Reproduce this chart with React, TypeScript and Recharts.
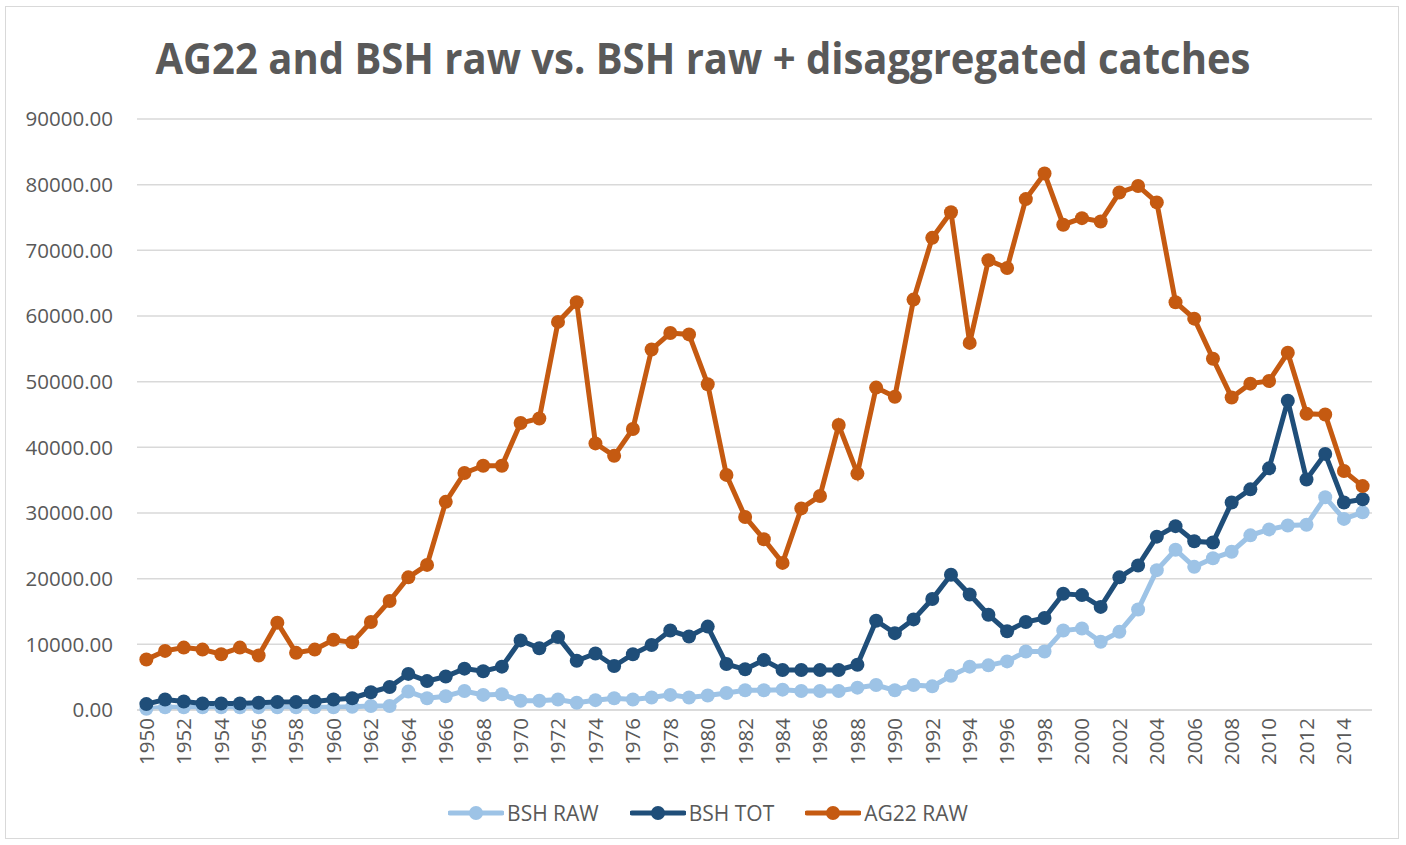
import { LineChart, Line, XAxis, YAxis, CartesianGrid, Legend } from "recharts"

const years = [
  "1950", "1951", "1952", "1953", "1954", "1955", "1956", "1957", "1958", "1959",
  "1960", "1961", "1962", "1963", "1964", "1965", "1966", "1967", "1968", "1969",
  "1970", "1971", "1972", "1973", "1974", "1975", "1976", "1977", "1978", "1979",
  "1980", "1981", "1982", "1983", "1984", "1985", "1986", "1987", "1988", "1989",
  "1990", "1991", "1992", "1993", "1994", "1995", "1996", "1997", "1998", "1999",
  "2000", "2001", "2002", "2003", "2004", "2005", "2006", "2007", "2008", "2009",
  "2010", "2011", "2012", "2013", "2014", "2015",
]

const bshRaw = [
  200, 400, 400, 400, 400, 400, 400, 400, 400, 400,
  400, 500, 600, 600, 2800, 1800, 2100, 2900, 2300, 2400,
  1400, 1400, 1600, 1100, 1500, 1800, 1600, 1900, 2300, 1900,
  2200, 2600, 3000, 3000, 3100, 2900, 2900, 2900, 3400, 3800,
  3000, 3800, 3600, 5200, 6600, 6800, 7400, 8900, 8900, 12100,
  12400, 10400, 11900, 15300, 21300, 24400, 21800, 23100, 24100, 26600,
  27500, 28100, 28200, 32400, 29100, 30100,
]

const bshTot = [
  900, 1600, 1300, 1000, 1000, 1000, 1100, 1200, 1200, 1300,
  1600, 1800, 2700, 3500, 5500, 4400, 5100, 6300, 5900, 6600,
  10600, 9400, 11100, 7500, 8600, 6700, 8500, 9900, 12100, 11200,
  12700, 7000, 6200, 7600, 6100, 6100, 6100, 6100, 6900, 13600,
  11700, 13800, 16900, 20600, 17600, 14500, 12000, 13400, 14000, 17700,
  17500, 15700, 20200, 22000, 26400, 28000, 25700, 25500, 31600, 33600,
  36800, 47100, 35100, 39000, 31600, 32100,
]

const ag22Raw = [
  7700, 9000, 9500, 9200, 8500, 9500, 8300, 13300, 8700, 9200,
  10700, 10300, 13400, 16600, 20200, 22100, 31700, 36100, 37200, 37200,
  43700, 44400, 59100, 62100, 40600, 38700, 42800, 54900, 57400, 57200,
  49600, 35800, 29400, 26000, 22400, 30700, 32600, 43400, 36000, 49100,
  47700, 62500, 71900, 75800, 55900, 68500, 67300, 77800, 81700, 73900,
  74900, 74400, 78800, 79800, 77300, 62100, 59600, 53500, 47600, 49700,
  50100, 54400, 45100, 45000, 36400, 34100,
]

const yTicks = [0, 10000, 20000, 30000, 40000, 50000, 60000, 70000, 80000, 90000]

const data = years.map((year, i) => ({
  year,
  bshRaw: bshRaw[i],
  bshTot: bshTot[i],
  ag22Raw: ag22Raw[i],
}))

const series = [
  { key: "bshRaw", name: "BSH RAW", color: "#9DC3E6" },
  { key: "bshTot", name: "BSH TOT", color: "#1F4E79" },
  { key: "ag22Raw", name: "AG22 RAW", color: "#C55A11" },
]

const textColor = "#595959"
const font = "'Open Sans', sans-serif"

function YearTick(props: any) {
  const { x, y, payload } = props
  return (
    <text
      x={x}
      y={y}
      transform={`rotate(-90, ${x}, ${y})`}
      textAnchor="end"
      dy="0.36em"
      fill={textColor}
      fontSize={20.5}
      fontFamily={font}
    >
      {payload.value}
    </text>
  )
}

function LegendContent() {
  return (
    <div style={{ display: "flex", justifyContent: "center", alignItems: "center", height: 40, gap: 31, paddingLeft: 10 }}>
      {series.map((s) => (
        <div key={s.key} style={{ display: "flex", alignItems: "center" }}>
          <svg width={56} height={16}>
            <line x1={2} y1={8} x2={54} y2={8} stroke={s.color} strokeWidth={5} strokeLinecap="round" />
            <circle cx={28} cy={8} r={7} fill={s.color} />
          </svg>
          <span style={{ marginLeft: 3, fontFamily: font, fontSize: 21, color: textColor }}>{s.name}</span>
        </div>
      ))}
    </div>
  )
}

export default function App() {
  return (
    <div style={{ position: "fixed", left: 0, top: 0, width: 1406, height: 845, background: "#fff" }}>
      <div
        style={{
          position: "absolute",
          left: 5,
          top: 6,
          width: 1394,
          height: 833,
          border: "1px solid #D9D9D9",
          boxSizing: "border-box",
        }}
      />
      <svg style={{ position: "absolute", left: 0, top: 0 }} width={1406} height={110}>
        <text
          x={703}
          y={74}
          textAnchor="middle"
          fontFamily={font}
          fontWeight={700}
          fontSize={43}
          fill={textColor}
          textLength={1095}
          lengthAdjust="spacingAndGlyphs"
        >
          AG22 and BSH raw vs. BSH raw + disaggregated catches
        </text>
      </svg>
      <div style={{ position: "absolute", left: 0, top: 0 }}>
        <LineChart
          width={1406}
          height={845}
          data={data}
          margin={{ top: 119, right: 34, left: 0, bottom: 12 }}
        >
          <CartesianGrid vertical={false} stroke="#D9D9D9" strokeWidth={1.5} />
          <XAxis
            dataKey="year"
            interval={1}
            height={83}
            padding={{ left: 9.36, right: 9.36 }}
            axisLine={{ stroke: "#D9D9D9", strokeWidth: 1.5 }}
            tickLine={false}
            tickSize={0}
            tickMargin={8}
            tick={<YearTick />}
          />
          <YAxis
            domain={[0, 90000]}
            ticks={yTicks}
            width={137}
            axisLine={false}
            tickLine={false}
            tickSize={0}
            tickMargin={24}
            tickFormatter={(v: number) => v.toFixed(2)}
            tick={{ fill: textColor, fontSize: 20.5, fontFamily: font }}
          />
          <Legend
            verticalAlign="bottom"
            content={<LegendContent />}
            wrapperStyle={{ left: 0, width: 1406 }}
          />
          {series.map((s) => (
            <Line
              key={s.key}
              type="linear"
              dataKey={s.key}
              name={s.name}
              stroke={s.color}
              strokeWidth={5}
              dot={{ r: 7, fill: s.color, stroke: "none" }}
              activeDot={false}
              isAnimationActive={false}
            />
          ))}
        </LineChart>
      </div>
    </div>
  )
}
